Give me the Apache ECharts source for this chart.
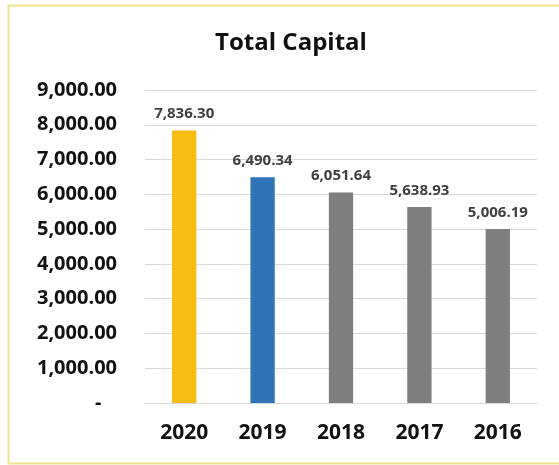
<!DOCTYPE html>
<html>
<head>
<meta charset="utf-8">
<script src="https://cdn.jsdelivr.net/npm/echarts@6/dist/echarts.min.js"></script>
<style>
  html, body { margin: 0; padding: 0; background: #ffffff; }
  #chart { width: 559px; height: 465px; }
</style>
</head>
<body>
<div id="chart"></div>
<script>
// Fiscal years and total capital per year
const years = ['2020', '2019', '2018', '2017', '2016'];
const capital = [7836.30, 6490.34, 6051.64, 5638.93, 5006.19];
const barColors = ['#F7BC14', '#2F74B5', '#7F7F7F', '#7F7F7F', '#7F7F7F'];
const yTicks = [0, 1000, 2000, 3000, 4000, 5000, 6000, 7000, 8000, 9000];

const FONT = '"Open Sans", "Liberation Sans", sans-serif';

function money(v) {
  return v.toLocaleString('en-US', { minimumFractionDigits: 2, maximumFractionDigits: 2 });
}

const chart = echarts.init(document.getElementById('chart'), null, { renderer: 'canvas' });

chart.setOption({
  backgroundColor: '#ffffff',
  animation: false,
  title: {
    text: 'Total Capital',
    left: 286,
    textAlign: 'center',
    top: 26,
    textStyle: { fontFamily: FONT, fontSize: 24, fontWeight: 'bold', color: '#111111' }
  },
  graphic: [{
    type: 'rect',
    silent: true,
    shape: { x: 8.5, y: 5.5, width: 560, height: 458 },
    style: { fill: 'none', stroke: '#EEE38C', lineWidth: 2 }
  }],
  grid: { left: 145, right: 22, top: 90, bottom: 62 },
  xAxis: {
    type: 'category',
    data: years,
    axisLine: { show: true, lineStyle: { color: '#d9d9d9', width: 1 } },
    axisTick: { show: false },
    axisLabel: {
      margin: 20,
      fontFamily: FONT, fontSize: 21, fontWeight: 'bold', color: '#111111'
    }
  },
  yAxis: {
    type: 'value',
    min: yTicks[0],
    max: yTicks[yTicks.length - 1],
    interval: yTicks[1] - yTicks[0],
    axisLine: { show: false },
    axisTick: { show: false },
    splitLine: { lineStyle: { color: '#d9d9d9', width: 1 } },
    axisLabel: {
      margin: 28,
      fontFamily: FONT, fontSize: 20, fontWeight: 'bold', color: '#111111',
      formatter: v => (v === 0 ? '-   ' : money(v))
    }
  },
  series: [{
    type: 'bar',
    barWidth: '31%',
    data: capital.map((v, i) => ({ value: v, itemStyle: { color: barColors[i] } })),
    label: {
      show: true,
      position: 'top',
      distance: 9,
      fontFamily: FONT, fontSize: 15, fontWeight: 'bold', color: '#404040',
      formatter: p => money(p.value)
    }
  }]
});
</script>
</body>
</html>
